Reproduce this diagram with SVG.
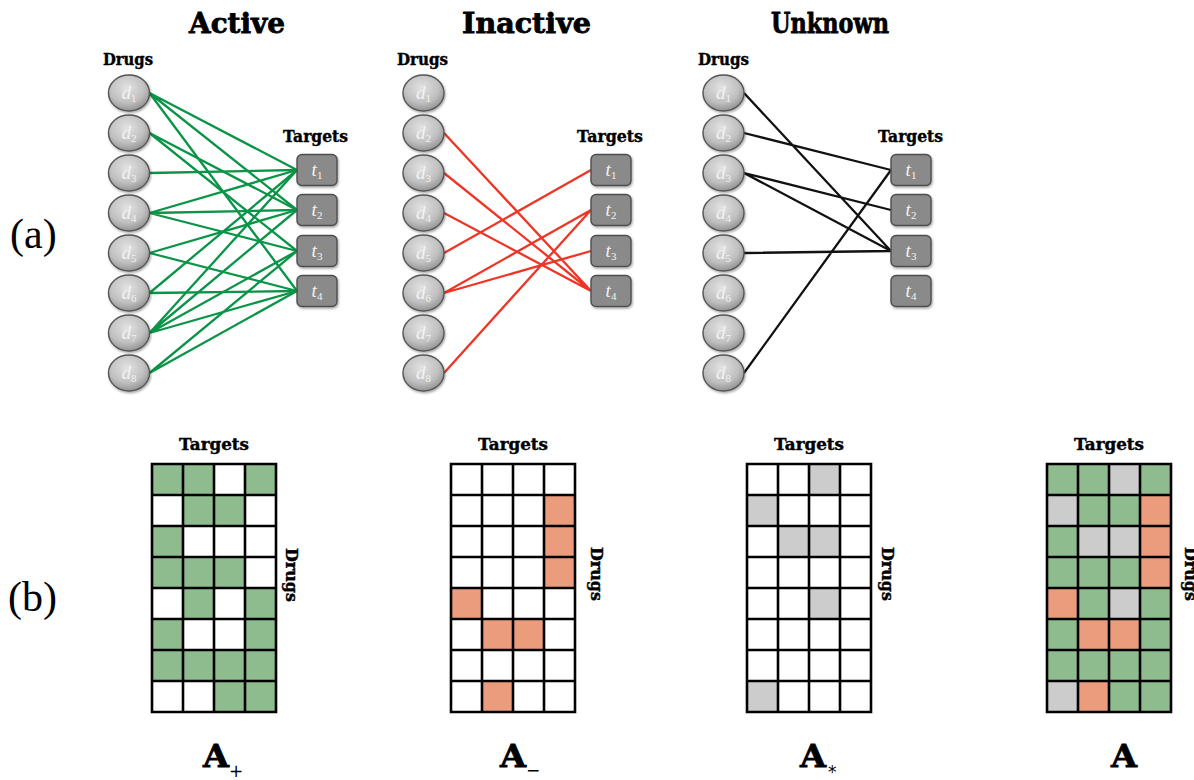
<svg xmlns="http://www.w3.org/2000/svg" width="1194" height="780" viewBox="0 0 1194 780">
<style>
.title{font-family:"DejaVu Serif",serif;font-weight:bold;font-size:28px;fill:#000;stroke:#000;stroke-width:0.8;text-anchor:middle}
.lab{font-family:"DejaVu Serif",serif;font-weight:bold;font-size:16px;fill:#000;stroke:#000;stroke-width:0.4;text-anchor:middle}
.panel{font-family:"Liberation Serif","DejaVu Serif",serif;font-size:42px;fill:#000}
.nl{font-family:"Liberation Serif",serif;font-style:italic;font-size:19px;fill:#f2f2f2;text-anchor:middle}
.sub{font-size:11px;font-style:normal}
.drug{fill:url(#dg);stroke:#555;stroke-width:1.4;filter:url(#sh)}
.tgt{fill:#8a8a8a;stroke:#4e4e4e;stroke-width:1.4;filter:url(#sh)}
.eg{stroke:#0a9447;stroke-width:2.3;fill:none}
.er{stroke:#ef3526;stroke-width:2.3;fill:none}
.ek{stroke:#111;stroke-width:2.3;fill:none}
.G{fill:#8fbc8f}
.S{fill:#eb9c7d}
.U{fill:#cccccc}
.grid{fill:none;stroke:#000;stroke-width:2.6;stroke-linecap:square}
.big{font-family:"DejaVu Serif",serif;font-weight:bold;font-size:32px;fill:#000;stroke:#000;stroke-width:0.8}
.bsub{font-family:"DejaVu Sans",sans-serif;font-size:17px;fill:#000}
</style>
<defs>
<radialGradient id="dg" cx="0.45" cy="0.35" r="0.7">
<stop offset="0" stop-color="#e2e2e2"/>
<stop offset="0.6" stop-color="#c0c0c0"/>
<stop offset="1" stop-color="#8a8a8a"/>
</radialGradient>
<filter id="sh" x="-20%" y="-20%" width="150%" height="150%">
<feDropShadow dx="1" dy="1.5" stdDeviation="1" flood-color="#000" flood-opacity="0.35"/>
</filter>
<path id="gridp" d="M0 0v248M31 0v248M62 0v248M93 0v248M124 0v248M0 0h124M0 31h124M0 62h124M0 93h124M0 124h124M0 155h124M0 186h124M0 217h124M0 248h124"/>
</defs>
<rect width="1194" height="780" fill="#fff"/>

<text class="panel" x="10" y="248">(a)</text>
<text class="panel" x="8" y="611">(b)</text>

<text class="title" x="237" y="33" textLength="96" lengthAdjust="spacingAndGlyphs">Active</text>
<text class="title" x="526.5" y="33" textLength="129" lengthAdjust="spacingAndGlyphs">Inactive</text>
<text class="title" x="830" y="33" textLength="118" lengthAdjust="spacingAndGlyphs">Unknown</text>

<text class="lab" x="128" y="65" textLength="50" lengthAdjust="spacingAndGlyphs">Drugs</text>
<text class="lab" x="315.5" y="142" textLength="65" lengthAdjust="spacingAndGlyphs">Targets</text>
<text class="lab" x="422.5" y="65" textLength="51" lengthAdjust="spacingAndGlyphs">Drugs</text>
<text class="lab" x="610" y="142" textLength="66" lengthAdjust="spacingAndGlyphs">Targets</text>
<text class="lab" x="723.5" y="65" textLength="51" lengthAdjust="spacingAndGlyphs">Drugs</text>
<text class="lab" x="910.5" y="142" textLength="65" lengthAdjust="spacingAndGlyphs">Targets</text>

<g id="connectors">
<g id="active-edges" class="eg">
<path d="M149.5 93L297 170M149.5 93L297 210M149.5 93L297 291"/>
<path d="M149.5 133L297 210M149.5 133L297 251"/>
<path d="M149.5 173L297 170"/>
<path d="M149.5 213L297 170M149.5 213L297 210M149.5 213L297 251"/>
<path d="M149.5 253L297 210M149.5 253L297 291"/>
<path d="M149.5 293L297 170M149.5 293L297 291"/>
<path d="M149.5 333L297 170M149.5 333L297 210M149.5 333L297 251M149.5 333L297 291"/>
<path d="M149.5 373L297 251M149.5 373L297 291"/>
</g>
<g id="inactive-edges" class="er">
<path d="M444 133L591 291M444 173L591 291M444 213L591 291M444 253L591 170M444 293L591 210M444 293L591 251M444 373L591 210"/>
</g>
<g id="unknown-edges" class="ek">
<path d="M744 93L891 251M744 133L891 170M744 173L891 210M744 173L891 251M744 253L891 251M744 373L891 170"/>
</g>
</g>

<!-- Active nodes -->
<g id="a-d1"><ellipse class="drug" cx="129" cy="93" rx="20.5" ry="18"/><text class="nl" x="129" y="99">d<tspan class="sub" dy="3">1</tspan></text></g>
<g id="a-d2"><ellipse class="drug" cx="129" cy="133" rx="20.5" ry="18"/><text class="nl" x="129" y="139">d<tspan class="sub" dy="3">2</tspan></text></g>
<g id="a-d3"><ellipse class="drug" cx="129" cy="173" rx="20.5" ry="18"/><text class="nl" x="129" y="179">d<tspan class="sub" dy="3">3</tspan></text></g>
<g id="a-d4"><ellipse class="drug" cx="129" cy="213" rx="20.5" ry="18"/><text class="nl" x="129" y="219">d<tspan class="sub" dy="3">4</tspan></text></g>
<g id="a-d5"><ellipse class="drug" cx="129" cy="253" rx="20.5" ry="18"/><text class="nl" x="129" y="259">d<tspan class="sub" dy="3">5</tspan></text></g>
<g id="a-d6"><ellipse class="drug" cx="129" cy="293" rx="20.5" ry="18"/><text class="nl" x="129" y="299">d<tspan class="sub" dy="3">6</tspan></text></g>
<g id="a-d7"><ellipse class="drug" cx="129" cy="333" rx="20.5" ry="18"/><text class="nl" x="129" y="339">d<tspan class="sub" dy="3">7</tspan></text></g>
<g id="a-d8"><ellipse class="drug" cx="129" cy="373" rx="20.5" ry="18"/><text class="nl" x="129" y="379">d<tspan class="sub" dy="3">8</tspan></text></g>
<g id="a-t1"><rect class="tgt" x="297" y="154.5" width="40" height="31" rx="5"/><text class="nl" x="317" y="176">t<tspan class="sub" dy="3">1</tspan></text></g>
<g id="a-t2"><rect class="tgt" x="297" y="194.5" width="40" height="31" rx="5"/><text class="nl" x="317" y="216">t<tspan class="sub" dy="3">2</tspan></text></g>
<g id="a-t3"><rect class="tgt" x="297" y="235.5" width="40" height="31" rx="5"/><text class="nl" x="317" y="257">t<tspan class="sub" dy="3">3</tspan></text></g>
<g id="a-t4"><rect class="tgt" x="297" y="275.5" width="40" height="31" rx="5"/><text class="nl" x="317" y="297">t<tspan class="sub" dy="3">4</tspan></text></g>

<!-- Inactive nodes -->
<g id="i-d1"><ellipse class="drug" cx="423.5" cy="93" rx="20.5" ry="18"/><text class="nl" x="423.5" y="99">d<tspan class="sub" dy="3">1</tspan></text></g>
<g id="i-d2"><ellipse class="drug" cx="423.5" cy="133" rx="20.5" ry="18"/><text class="nl" x="423.5" y="139">d<tspan class="sub" dy="3">2</tspan></text></g>
<g id="i-d3"><ellipse class="drug" cx="423.5" cy="173" rx="20.5" ry="18"/><text class="nl" x="423.5" y="179">d<tspan class="sub" dy="3">3</tspan></text></g>
<g id="i-d4"><ellipse class="drug" cx="423.5" cy="213" rx="20.5" ry="18"/><text class="nl" x="423.5" y="219">d<tspan class="sub" dy="3">4</tspan></text></g>
<g id="i-d5"><ellipse class="drug" cx="423.5" cy="253" rx="20.5" ry="18"/><text class="nl" x="423.5" y="259">d<tspan class="sub" dy="3">5</tspan></text></g>
<g id="i-d6"><ellipse class="drug" cx="423.5" cy="293" rx="20.5" ry="18"/><text class="nl" x="423.5" y="299">d<tspan class="sub" dy="3">6</tspan></text></g>
<g id="i-d7"><ellipse class="drug" cx="423.5" cy="333" rx="20.5" ry="18"/><text class="nl" x="423.5" y="339">d<tspan class="sub" dy="3">7</tspan></text></g>
<g id="i-d8"><ellipse class="drug" cx="423.5" cy="373" rx="20.5" ry="18"/><text class="nl" x="423.5" y="379">d<tspan class="sub" dy="3">8</tspan></text></g>
<g id="i-t1"><rect class="tgt" x="591" y="154.5" width="40" height="31" rx="5"/><text class="nl" x="611" y="176">t<tspan class="sub" dy="3">1</tspan></text></g>
<g id="i-t2"><rect class="tgt" x="591" y="194.5" width="40" height="31" rx="5"/><text class="nl" x="611" y="216">t<tspan class="sub" dy="3">2</tspan></text></g>
<g id="i-t3"><rect class="tgt" x="591" y="235.5" width="40" height="31" rx="5"/><text class="nl" x="611" y="257">t<tspan class="sub" dy="3">3</tspan></text></g>
<g id="i-t4"><rect class="tgt" x="591" y="275.5" width="40" height="31" rx="5"/><text class="nl" x="611" y="297">t<tspan class="sub" dy="3">4</tspan></text></g>

<!-- Unknown nodes -->
<g id="u-d1"><ellipse class="drug" cx="723.5" cy="93" rx="20.5" ry="18"/><text class="nl" x="723.5" y="99">d<tspan class="sub" dy="3">1</tspan></text></g>
<g id="u-d2"><ellipse class="drug" cx="723.5" cy="133" rx="20.5" ry="18"/><text class="nl" x="723.5" y="139">d<tspan class="sub" dy="3">2</tspan></text></g>
<g id="u-d3"><ellipse class="drug" cx="723.5" cy="173" rx="20.5" ry="18"/><text class="nl" x="723.5" y="179">d<tspan class="sub" dy="3">3</tspan></text></g>
<g id="u-d4"><ellipse class="drug" cx="723.5" cy="213" rx="20.5" ry="18"/><text class="nl" x="723.5" y="219">d<tspan class="sub" dy="3">4</tspan></text></g>
<g id="u-d5"><ellipse class="drug" cx="723.5" cy="253" rx="20.5" ry="18"/><text class="nl" x="723.5" y="259">d<tspan class="sub" dy="3">5</tspan></text></g>
<g id="u-d6"><ellipse class="drug" cx="723.5" cy="293" rx="20.5" ry="18"/><text class="nl" x="723.5" y="299">d<tspan class="sub" dy="3">6</tspan></text></g>
<g id="u-d7"><ellipse class="drug" cx="723.5" cy="333" rx="20.5" ry="18"/><text class="nl" x="723.5" y="339">d<tspan class="sub" dy="3">7</tspan></text></g>
<g id="u-d8"><ellipse class="drug" cx="723.5" cy="373" rx="20.5" ry="18"/><text class="nl" x="723.5" y="379">d<tspan class="sub" dy="3">8</tspan></text></g>
<g id="u-t1"><rect class="tgt" x="891" y="154.5" width="40" height="31" rx="5"/><text class="nl" x="911" y="176">t<tspan class="sub" dy="3">1</tspan></text></g>
<g id="u-t2"><rect class="tgt" x="891" y="194.5" width="40" height="31" rx="5"/><text class="nl" x="911" y="216">t<tspan class="sub" dy="3">2</tspan></text></g>
<g id="u-t3"><rect class="tgt" x="891" y="235.5" width="40" height="31" rx="5"/><text class="nl" x="911" y="257">t<tspan class="sub" dy="3">3</tspan></text></g>
<g id="u-t4"><rect class="tgt" x="891" y="275.5" width="40" height="31" rx="5"/><text class="nl" x="911" y="297">t<tspan class="sub" dy="3">4</tspan></text></g>

<!-- Matrices -->
<g id="m-plus" transform="translate(152,464)">
<text class="lab" x="62" y="-14" textLength="70" lengthAdjust="spacingAndGlyphs">Targets</text>
<text class="lab" transform="translate(134,111) rotate(90)" x="0" y="0" textLength="54" lengthAdjust="spacingAndGlyphs">Drugs</text>
<rect width="124" height="248" fill="#fff"/>
<rect class="G" x="0" y="0" width="31" height="31"/><rect class="G" x="31" y="0" width="31" height="31"/><rect class="G" x="93" y="0" width="31" height="31"/>
<rect class="G" x="31" y="31" width="31" height="31"/><rect class="G" x="62" y="31" width="31" height="31"/>
<rect class="G" x="0" y="62" width="31" height="31"/>
<rect class="G" x="0" y="93" width="31" height="31"/><rect class="G" x="31" y="93" width="31" height="31"/><rect class="G" x="62" y="93" width="31" height="31"/>
<rect class="G" x="31" y="124" width="31" height="31"/><rect class="G" x="93" y="124" width="31" height="31"/>
<rect class="G" x="0" y="155" width="31" height="31"/><rect class="G" x="93" y="155" width="31" height="31"/>
<rect class="G" x="0" y="186" width="124" height="31"/>
<rect class="G" x="62" y="217" width="62" height="31"/>
<use href="#gridp" class="grid"/>
</g>

<g id="m-minus" transform="translate(451,464)">
<text class="lab" x="62" y="-14" textLength="70" lengthAdjust="spacingAndGlyphs">Targets</text>
<text class="lab" transform="translate(140,110) rotate(90)" x="0" y="0" textLength="54" lengthAdjust="spacingAndGlyphs">Drugs</text>
<rect width="124" height="248" fill="#fff"/>
<rect class="S" x="93" y="31" width="31" height="93"/>
<rect class="S" x="0" y="124" width="31" height="31"/>
<rect class="S" x="31" y="155" width="62" height="31"/>
<rect class="S" x="31" y="217" width="31" height="31"/>
<use href="#gridp" class="grid"/>
</g>

<g id="m-star" transform="translate(747,464)">
<text class="lab" x="62" y="-14" textLength="70" lengthAdjust="spacingAndGlyphs">Targets</text>
<text class="lab" transform="translate(135,110) rotate(90)" x="0" y="0" textLength="54" lengthAdjust="spacingAndGlyphs">Drugs</text>
<rect width="124" height="248" fill="#fff"/>
<rect class="U" x="62" y="0" width="31" height="31"/>
<rect class="U" x="0" y="31" width="31" height="31"/>
<rect class="U" x="31" y="62" width="62" height="31"/>
<rect class="U" x="62" y="124" width="31" height="31"/>
<rect class="U" x="0" y="217" width="31" height="31"/>
<use href="#gridp" class="grid"/>
</g>

<g id="m-all" transform="translate(1047,464)">
<text class="lab" x="62" y="-14" textLength="70" lengthAdjust="spacingAndGlyphs">Targets</text>
<text class="lab" transform="translate(138,110) rotate(90)" x="0" y="0" textLength="54" lengthAdjust="spacingAndGlyphs">Drugs</text>
<rect class="G" width="124" height="248"/>
<rect class="U" x="62" y="0" width="31" height="31"/>
<rect class="U" x="0" y="31" width="31" height="31"/><rect class="S" x="93" y="31" width="31" height="93"/>
<rect class="U" x="31" y="62" width="62" height="31"/>
<rect class="S" x="0" y="124" width="31" height="31"/><rect class="U" x="62" y="124" width="31" height="31"/>
<rect class="S" x="31" y="155" width="62" height="31"/>
<rect class="U" x="0" y="217" width="31" height="31"/><rect class="S" x="31" y="217" width="31" height="31"/>
<use href="#gridp" class="grid"/>
</g>

<g id="labels-bottom">
<text class="big" x="203" y="767" textLength="26" lengthAdjust="spacingAndGlyphs">A</text><text class="bsub" x="229" y="777">+</text>
<text class="big" x="500" y="767" textLength="26" lengthAdjust="spacingAndGlyphs">A</text><text class="bsub" x="526" y="776">−</text>
<text class="big" x="800" y="767" textLength="26" lengthAdjust="spacingAndGlyphs">A</text><text class="bsub" x="828" y="778">*</text>
<text class="big" x="1111" y="767" textLength="26" lengthAdjust="spacingAndGlyphs">A</text>
</g>
</svg>
